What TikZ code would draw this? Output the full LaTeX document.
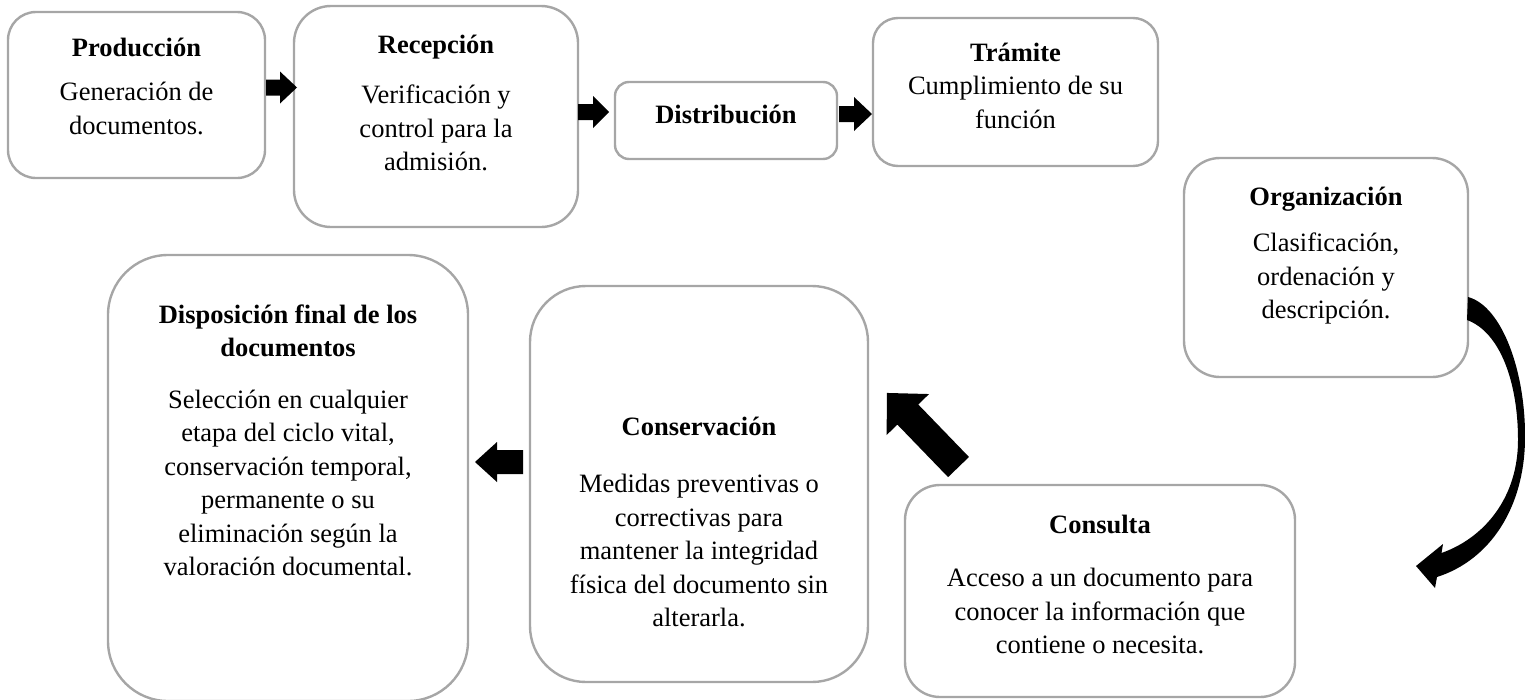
\documentclass[tikz,border=0pt]{standalone}
\usepackage{fontspec}
\setmainfont{Liberation Serif}
\definecolor{boxgray}{RGB}{166,166,166}
\begin{document}
\begin{tikzpicture}[x=1pt,y=-1pt,
  box/.style={draw=boxgray, line width=2.4pt, inner sep=0pt},
  txt/.style={align=center, inner sep=0pt, font=\fontsize{26.5}{33.5}\selectfont, anchor=north},
  pics/barrow/.style n args={4}{code={\fill (-#1/2,-#2/2) -- ({#1/2-#4},-#2/2) -- ({#1/2-#4},-#3/2) -- (#1/2,0) -- ({#1/2-#4},#3/2) -- ({#1/2-#4},#2/2) -- (-#1/2,#2/2) -- cycle;}}
]
\useasboundingbox (0,0) rectangle (1525,699);
\newcommand{\fs}{\rule{0pt}{22pt}}
% boxes
\node[box, rounded corners=28pt, minimum width=257pt, minimum height=166pt] (prod) at (136.5,95) {};
\node[box, rounded corners=37pt, minimum width=284pt, minimum height=221pt] (rec) at (436,116.5) {};
\node[box, rounded corners=14pt, minimum width=222pt, minimum height=77pt] (dist) at (726,120.5) {};
\node[box, rounded corners=25pt, minimum width=285pt, minimum height=148pt] (tram) at (1015.5,92) {};
\node[box, rounded corners=36pt, minimum width=284pt, minimum height=219pt] (org) at (1326,267.5) {};
\node[box, rounded corners=60pt, minimum width=360pt, minimum height=446pt] (disp) at (288,478) {};
\node[box, rounded corners=56pt, minimum width=338pt, minimum height=396pt] (conserv) at (699,484) {};
\node[box, rounded corners=35pt, minimum width=390pt, minimum height=212pt] (consul) at (1100,591) {};
% texts
\node[txt] (prodt) at (136.5,34) {\fs\textbf{Producción}\\[11pt]Generación de\\documentos.};
\node[txt] (rect) at (436,31) {\fs\textbf{Recepción}\\[17pt]Verificación y\\control para la\\admisión.};
\node[txt] (distt) at (726,101) {\fs\textbf{Distribución}};
\node[txt] (tramt) at (1015.5,39) {\fs\textbf{Trámite}\\Cumplimiento de su\\función};
\node[txt] (orgt) at (1326,183) {\fs\textbf{Organización}\\[13pt]Clasificación,\\ordenación y\\descripción.};
\node[txt] (dispt) at (288,301) {\fs\textbf{Disposición final de los}\\\textbf{documentos}\\[18pt]Selección en cualquier\\etapa del ciclo vital,\\conservación temporal,\\permanente o su\\eliminación según la\\valoración documental.};
\node[txt] (conservt) at (699,413) {\fs\textbf{Conservación}\\[24pt]Medidas preventivas o\\correctivas para\\mantener la integridad\\física del documento sin\\alterarla.};
\node[txt] (consult) at (1100,511) {\fs\textbf{Consulta}\\[20pt]Acceso a un documento para\\conocer la información que\\contiene o necesita.};
% block arrows
\pic at (281.5,87.5) {barrow={31}{16}{32}{17}};
\pic at (593.5,112) {barrow={31}{16}{32}{16}};
\pic at (855.5,114) {barrow={33}{16}{34}{18}};
\pic[rotate=180] at (499,462) {barrow={48}{24}{40}{22}};
\pic[rotate=134] at (922.75,430) {barrow={103}{29}{59}{30}};
% curved arrow
\fill (1468,297) .. controls (1502,306) and (1526,372) .. (1525,440) .. controls (1524,508) and (1490,560) .. (1437,577) -- (1435,588) -- (1416,566) -- (1443,544) -- (1441.5,553) .. controls (1484,538) and (1518,498) .. (1518,440) .. controls (1518,382) and (1500,332) .. (1467,320) -- cycle;
\end{tikzpicture}
\end{document}
